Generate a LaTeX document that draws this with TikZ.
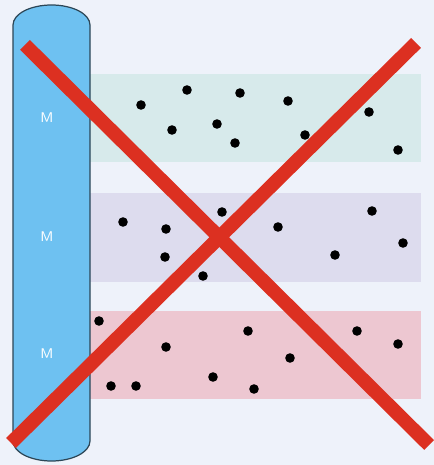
\documentclass[tikz,border=0pt]{standalone}
\usepackage{tikz}

\definecolor{bgcol}{HTML}{EEF2FA}
\definecolor{tubecol}{HTML}{6EC1F1}
\definecolor{tubeline}{HTML}{2C4656}
\definecolor{bandA}{HTML}{D7EAEB}
\definecolor{bandB}{HTML}{DDDCEE}
\definecolor{bandC}{HTML}{EDC7D1}
\definecolor{crosscol}{HTML}{DC3021}

\tikzset{
    band/.style={draw=none},
    mlabel/.style={text=white, font=\sffamily\footnotesize},
    crossline/.style={crosscol, line width=7.9pt, line cap=butt}
}

\begin{document}
\begin{tikzpicture}[scale=0.02]
        % Background
        \fill[bgcol] (0,0) rectangle (434,465);
        \useasboundingbox (0,0) rectangle (434,465);

        % Draw the three bands
        \fill[band, bandA] (88,303) rectangle (421,391);
        \fill[band, bandB] (88,183) rectangle (421,272);
        \fill[band, bandC] (88,66) rectangle (421,154);

        % Draw the dots in each band
        \foreach \x/\y in {141/105, 187/90, 240/93, 288/101, 172/130, 217/124,
                235/143, 305/135, 369/112, 398/150,
                123/222, 166/229, 222/212, 165/257, 203/276, 278/227,
                372/211, 403/243, 335/255,
                99/321, 166/347, 111/386, 136/386, 213/377, 248/331,
                357/331, 398/344, 290/358, 254/389}
            \fill[black] (\x,{465-\y}) circle (4.8);

        % Draw the tube
        \draw[fill=tubecol, draw=tubeline, line width=0.7pt] (13,440) -- (13,24)
            arc[start angle=180, end angle=360, x radius=38.5, y radius=20]
            -- (90,440)
            arc[start angle=0, end angle=180, x radius=38.5, y radius=20]
            -- cycle;

        % Labels on the tube
        \node[mlabel] (m1) at (47,347) {M};
        \node[mlabel] (m2) at (47,228) {M};
        \node[mlabel] (m3) at (47,111) {M};

        % Draw the cross
        \coordinate (ca) at (25,420);
        \coordinate (cb) at (429,20);
        \coordinate (cc) at (416,422);
        \coordinate (cd) at (11,22);
        \draw[crossline] (ca) -- (cb);
        \draw[crossline] (cc) -- (cd);
    \end{tikzpicture}
\end{document}
